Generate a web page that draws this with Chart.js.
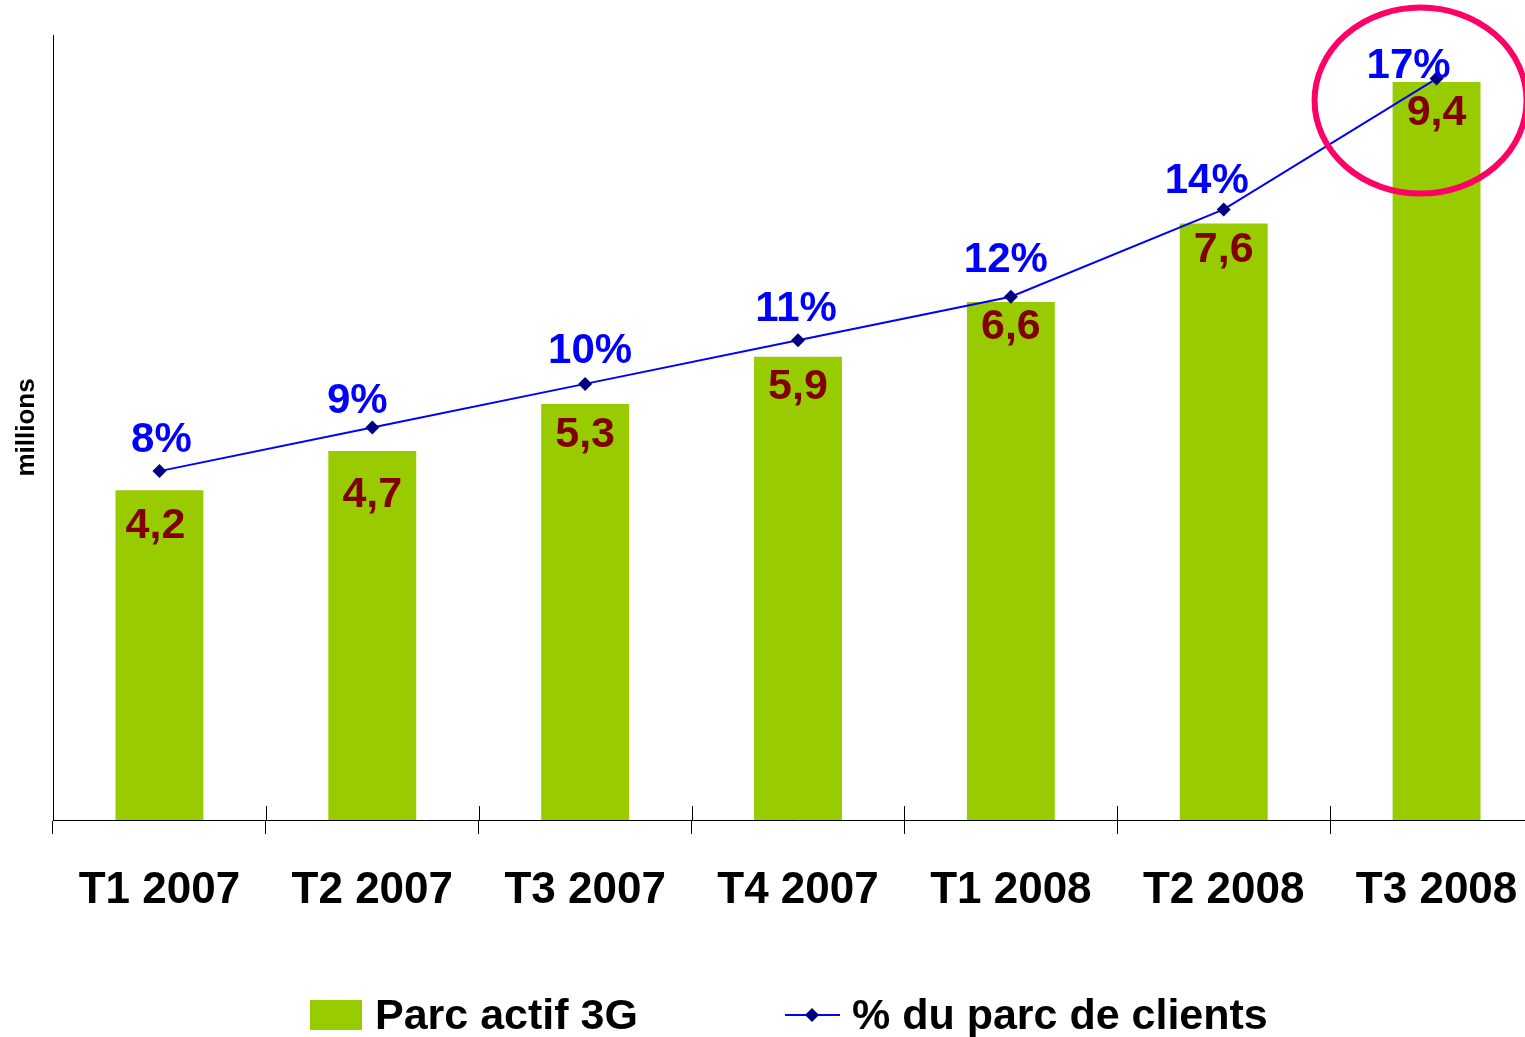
<!DOCTYPE html>
<html>
<head>
<meta charset="utf-8">
<script src="https://cdn.jsdelivr.net/npm/chart.js@4/dist/chart.umd.min.js"></script>
<style>
  html, body { margin: 0; padding: 0; background: #fff; overflow: hidden; }
  canvas { display: block; }
</style>
</head>
<body>
<canvas id="chart" width="1560" height="1037"></canvas>
<script>
const quarters = ['T1 2007', 'T2 2007', 'T3 2007', 'T4 2007', 'T1 2008', 'T2 2008', 'T3 2008'];
const parcActif = [4.2, 4.7, 5.3, 5.9, 6.6, 7.6, 9.4];
const partClients = [8, 9, 10, 11, 12, 14, 17];

const FONT = '"Liberation Sans", Arial, sans-serif';
const fmtComma = v => v.toFixed(1).replace('.', ',');

// hand-placed label nudges, as in the original slide (px)
const pctNudge = [[2, -3], [-15, 1], [5, -5], [-2, -3], [-5, -9], [-17, 0], [-28, 15]];
const barNudge = [[-4, 5], [0, 13], [0, 0], [0, -1], [0, -6], [0, -4], [0, 0]];

// labels on top of the marks + the highlight ring on the last quarter
const labelsPlugin = {
  id: 'labels',
  afterDatasetsDraw(chart) {
    const ctx = chart.ctx;
    const bars = chart.getDatasetMeta(0).data;
    const pts = chart.getDatasetMeta(1).data;
    ctx.save();
    ctx.textAlign = 'center';
    ctx.textBaseline = 'alphabetic';

    ctx.font = 'bold 43px ' + FONT;
    ctx.fillStyle = '#800000';
    bars.forEach((b, i) => {
      const [dx, dy] = barNudge[i];
      ctx.fillText(fmtComma(parcActif[i]), b.x + dx, b.y + 43 + dy);
    });

    ctx.font = 'bold 42px ' + FONT;
    ctx.fillStyle = '#0000FF';
    pts.forEach((p, i) => {
      const [dx, dy] = pctNudge[i];
      ctx.fillText(partClients[i] + '%', p.x + dx, p.y - 16 + dy);
    });

    // ring around the last point
    const last = pts[pts.length - 1];
    ctx.beginPath();
    ctx.ellipse(last.x - 16, last.y + 22, 106, 93, 0, 0, Math.PI * 2);
    ctx.lineWidth = 6;
    ctx.strokeStyle = '#FF0066';
    ctx.stroke();
    ctx.restore();
  },
  afterDraw(chart) {
    const ctx = chart.ctx;
    const x = chart.scales.x;
    const area = chart.chartArea;
    const step = (area.right - area.left) / quarters.length;
    ctx.save();
    // small upward part of the category ticks
    ctx.strokeStyle = '#000';
    ctx.lineWidth = 1;
    for (let i = 1; i < quarters.length; i++) {
      const px = Math.round(x.getPixelForValue(i) - step / 2) + 0.5;
      ctx.beginPath();
      ctx.moveTo(px, area.bottom - 14);
      ctx.lineTo(px, area.bottom);
      ctx.stroke();
    }

    // legend
    const ly = 1015;
    ctx.font = 'bold 43px ' + FONT;
    ctx.textBaseline = 'middle';
    ctx.textAlign = 'left';
    ctx.fillStyle = '#99CC00';
    ctx.fillRect(310, ly - 15, 52, 30);
    ctx.fillStyle = '#000';
    ctx.fillText('Parc actif 3G', 375, ly + 2);

    ctx.strokeStyle = '#0000FF';
    ctx.lineWidth = 2;
    ctx.beginPath();
    ctx.moveTo(785, ly);
    ctx.lineTo(840, ly);
    ctx.stroke();
    ctx.fillStyle = '#000080';
    ctx.beginPath();
    ctx.moveTo(812, ly - 7);
    ctx.lineTo(819, ly);
    ctx.lineTo(812, ly + 7);
    ctx.lineTo(805, ly);
    ctx.closePath();
    ctx.fill();
    ctx.fillStyle = '#000';
    ctx.fillText('% du parc de clients', 852, ly + 2);
    ctx.restore();
  }
};

new Chart(document.getElementById('chart'), {
  data: {
    labels: quarters,
    datasets: [
      {
        type: 'bar',
        label: 'Parc actif 3G',
        data: parcActif,
        backgroundColor: '#99CC00',
        categoryPercentage: 1,
        barPercentage: 0.413,
        yAxisID: 'y',
        order: 1
      },
      {
        type: 'line',
        label: '% du parc de clients',
        data: partClients,
        borderColor: '#0000FF',
        borderWidth: 2,
        pointStyle: 'rectRot',
        pointRadius: 7,
        pointBackgroundColor: '#000080',
        pointBorderColor: '#000080',
        pointBorderWidth: 0,
        tension: 0,
        yAxisID: 'y1',
        order: 0
      }
    ]
  },
  options: {
    responsive: false,
    animation: false,
    layout: { padding: { top: 35, right: 17, bottom: 0, left: 0 } },
    plugins: {
      legend: { display: false },
      tooltip: { enabled: false }
    },
    scales: {
      x: {
        offset: true,
        grid: { offset: true, drawOnChartArea: false, color: '#000', tickLength: 14 },
        border: { color: '#000', width: 1 },
        ticks: { color: '#000', padding: 30, font: { family: FONT, size: 44, weight: 'bold' } },
        afterFit(scale) { scale.height = 217; }
      },
      y: {
        min: 0,
        max: 10,
        grid: { display: false },
        border: { display: true, color: '#000', width: 1 },
        ticks: { display: false },
        title: {
          display: true,
          text: 'millions',
          color: '#000',
          padding: { top: 11, bottom: 0 },
          font: { family: FONT, size: 26, weight: 'bold' }
        },
        afterFit(scale) { scale.width = 53; }
      },
      y1: {
        display: false,
        min: 0,
        max: 18
      }
    }
  },
  plugins: [labelsPlugin]
});
</script>
</body>
</html>
